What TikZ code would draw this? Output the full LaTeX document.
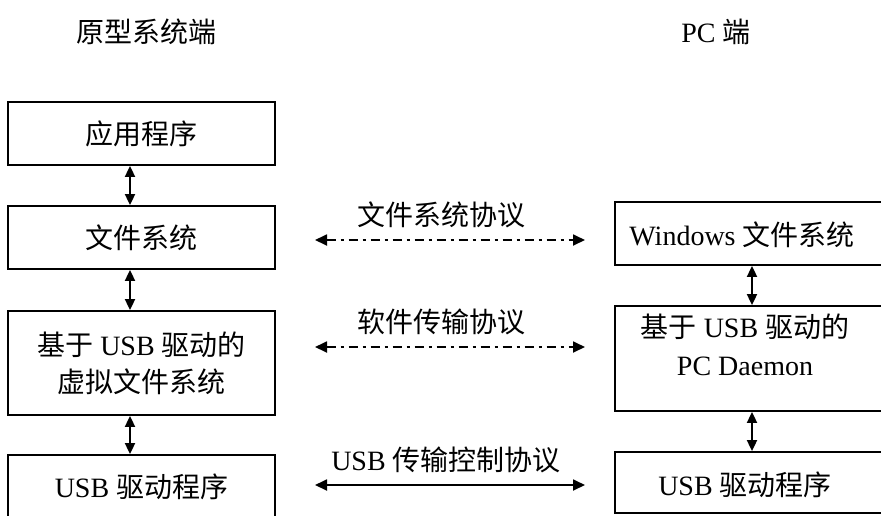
\documentclass[tikz,border=0pt]{standalone}
\usepackage{fontspec}
\setmainfont{Liberation Serif}
\newfontfamily\cjk{Noto Sans CJK SC}
\newcommand{\zh}[1]{{\cjk #1}}
\usetikzlibrary{arrows.meta}
\begin{document}
\begin{tikzpicture}[x=1pt,y=-1pt,
  every node/.style={font=\fontsize{28}{37}\selectfont, inner sep=0pt},
  lbox/.style={draw, line width=1.8pt, minimum width=267pt, align=center},
  rbox/.style={draw, line width=1.8pt, minimum width=280pt},
  varrow/.style={line width=1.8pt, {Triangle[length=11pt,width=10pt]}-{Triangle[length=11pt,width=10pt]}},
  harrow/.style={line width=1.8pt, {Triangle[length=12pt,width=11pt]}-{Triangle[length=12pt,width=11pt]}},
  proto/.style={harrow, dash pattern=on 9pt off 5pt on 3pt off 5pt},
]
\useasboundingbox (0,0) rectangle (881,515);
\clip (0,0) rectangle (881,515);

% column headings
\node (hl) at (146,32) {\zh{原型系统端}};
\node (hr) at (716,32) {PC \zh{端}};

% prototype side
\node[lbox, minimum height=63pt] (L1) at (141.5,133.5) {\zh{应用程序}};
\node[lbox, minimum height=63pt] (L2) at (141.5,237.5) {\zh{文件系统}};
\node[lbox, minimum height=104pt] (L3) at (141.5,363) {\zh{基于} USB \zh{驱动的}\\\zh{虚拟文件系统}};
\node[lbox, minimum height=64pt] (L4) at (141.5,487) {USB \zh{驱动程序}};

% PC side
\node[rbox, minimum height=63pt] (R1) at (755,233.5) {};
\node[rbox, minimum height=105pt] (R2) at (755,358.5) {};
\node[rbox, minimum height=61pt] (R3) at (755,482.5) {};
\node (R1t) at (742,235) {Windows \zh{文件系统}};
\node (R2a) at (745,327) {\zh{基于} USB \zh{驱动的}};
\node (R2b) at (745,366) {PC Daemon};
\node (R3t) at (745,485) {USB \zh{驱动程序}};

% layer links
\draw[varrow] ([xshift=-11.5pt]L1.south) -- ([xshift=-11.5pt]L2.north);
\draw[varrow] ([xshift=-11.5pt]L2.south) -- ([xshift=-11.5pt]L3.north);
\draw[varrow] ([xshift=-11.5pt]L3.south) -- ([xshift=-11.5pt]L4.north);
\draw[varrow] ([xshift=-3pt]R1.south) -- ([xshift=-3pt]R2.north);
\draw[varrow] ([xshift=-3pt]R2.south) -- ([xshift=-3pt]R3.north);

% protocols between the two sides
\coordinate (p1l) at (315,240); \coordinate (p1r) at (585,240);
\coordinate (p2l) at (315,347); \coordinate (p2r) at (585,347);
\coordinate (p3l) at (315,485); \coordinate (p3r) at (585,485);
\draw[proto] (p1l) -- (p1r);
\draw[proto] (p2l) -- (p2r);
\draw[harrow] (p3l) -- (p3r);
\node (t1) at (441,215) {\zh{文件系统协议}};
\node (t2) at (441,322) {\zh{软件传输协议}};
\node (t3) at (446,460) {USB \zh{传输控制协议}};
\end{tikzpicture}
\end{document}
